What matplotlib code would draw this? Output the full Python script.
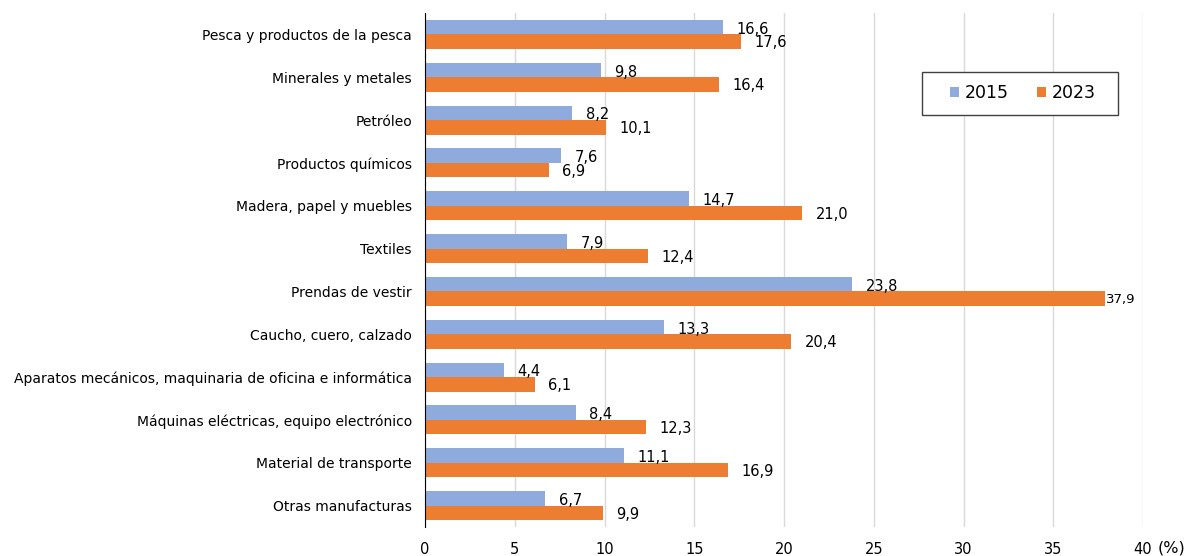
import numpy as np
import matplotlib.pyplot as plt
from matplotlib.patches import Rectangle

plt.rcParams['font.family'] = 'DejaVu Sans'

categories = ['Pesca y productos de la pesca', 'Minerales y metales', 'Petróleo',
              'Productos químicos', 'Madera, papel y muebles', 'Textiles',
              'Prendas de vestir', 'Caucho, cuero, calzado',
              'Aparatos mecánicos, maquinaria de oficina e informática',
              'Máquinas eléctricas, equipo electrónico', 'Material de transporte',
              'Otras manufacturas']
vals_2015 = [16.6, 9.8, 8.2, 7.6, 14.7, 7.9, 23.8, 13.3, 4.4, 8.4, 11.1, 6.7]
vals_2023 = [17.6, 16.4, 10.1, 6.9, 21.0, 12.4, 37.9, 20.4, 6.1, 12.3, 16.9, 9.9]
ticks = [0, 5, 10, 15, 20, 25, 30, 35, 40]

blue = '#8FAADC'
orange = '#ED7D31'

fig = plt.figure(figsize=(11.98, 5.56), dpi=100)
ax = fig.add_axes([0.3548, 0.0522, 0.5993, 0.9244])

y = np.arange(len(categories))
h = 0.34
b1 = ax.barh(y - h / 2, vals_2015, height=h, color=blue, label='2015', zorder=2)
b2 = ax.barh(y + h / 2, vals_2023, height=h, color=orange, label='2023', zorder=2)


def fmt(v):
    return f'{v:.1f}'.replace('.', ',')


for rect, v in zip(b1, vals_2015):
    ax.text(v + 0.75, rect.get_y() + rect.get_height() / 2 + 0.05, fmt(v),
            va='center', ha='left', fontsize=10.5)
for rect, v in zip(b2, vals_2023):
    if v > 35:
        # no room left of the axis end: label sits right at the bar tip
        ax.text(v + 0.05, rect.get_y() + rect.get_height() / 2 + 0.02, fmt(v),
                va='center', ha='left', fontsize=9.5)
    else:
        ax.text(v + 0.75, rect.get_y() + rect.get_height() / 2 + 0.03, fmt(v),
                va='center', ha='left', fontsize=10.5)

ax.set_ylim(len(categories) - 0.5, -0.5)
ax.set_xlim(0, 40)
ax.set_yticks(y)
ax.set_yticklabels(categories, fontsize=10)
ax.set_xticks(ticks)
ax.set_xticklabels([str(t) for t in ticks], fontsize=10.5)
ax.tick_params(axis='y', length=0, pad=9.4)
xpad = 10.5
ax.tick_params(axis='x', length=0, pad=xpad)

# unit label to the right of the last tick, on the tick labels' baseline
ax_h_px = 0.9244 * 556
base_y = -(xpad * 100 / 72 + 10.5 * 100 / 72 * 0.76) / ax_h_px
ax.text(40.84, base_y, '(%)', transform=ax.get_xaxis_transform(),
        fontsize=11.5, ha='left', va='baseline')

ax.grid(axis='x', color='#D9D9D9', linewidth=1, zorder=0)
for s in ['top', 'right', 'bottom']:
    ax.spines[s].set_visible(False)
ax.spines['left'].set_color('black')

# legend box drawn by hand so the padding matches
fig.patches.append(Rectangle((922 / 1198, 1 - 115 / 556), 196 / 1198, 43 / 556,
                             transform=fig.transFigure, facecolor='white',
                             edgecolor='#404040', linewidth=1, zorder=5))
leg = fig.legend(handles=[b1, b2], labels=['2015', '2023'], loc='center',
                 bbox_to_anchor=(1023 / 1198, 1 - 93.5 / 556), ncol=2, fontsize=12.5,
                 frameon=False, handlelength=0.52, handleheight=0.52,
                 handletextpad=0.3, columnspacing=1.65, borderpad=0)
leg.set_zorder(6)

fig.savefig('out.png', dpi=100)
